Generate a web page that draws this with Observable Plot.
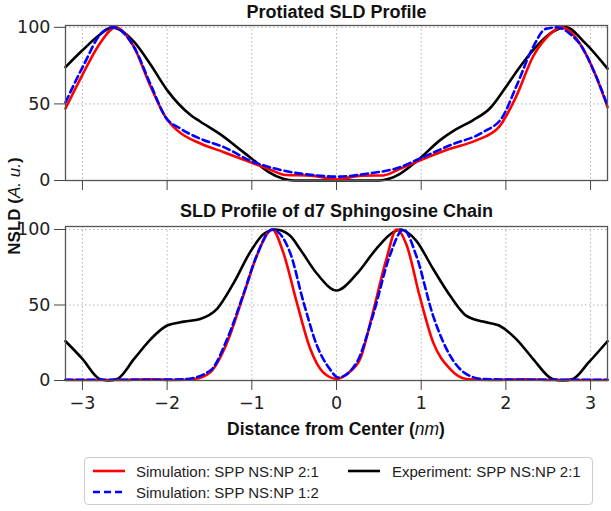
<!DOCTYPE html>
<html><head><meta charset="utf-8">
<script src="https://cdn.jsdelivr.net/npm/d3@7"></script>
<script src="https://cdn.jsdelivr.net/npm/@observablehq/plot@0.6"></script>
<style>
body{margin:0;background:#fff;}
#wrap{position:relative;width:611px;height:511px;font-family:"Liberation Sans",Arial,sans-serif;color:#111;overflow:hidden;}
.abs{position:absolute;}
</style></head><body><div id="wrap"></div>
<script>
// ---- Data ----
const xTicks = [-3, -2, -1, 0, 1, 2, 3];
const yTicks = [0, 50, 100];
const titleTop = "Protiated SLD Profile";
const titleBottom = "SLD Profile of d7 Sphingosine Chain";
const seriesNames = ["Simulation: SPP NS:NP 2:1", "Simulation: SPP NS:NP 1:2", "Experiment: SPP NS:NP 2:1"];

// Top panel: Protiated
const topSim21X = [-3.2, -3.0, -2.8, -2.61, -2.4, -2.2, -2.02, -1.88, -1.6, -1.33, -1.02, -0.8, -0.6, -0.3, -0.1, 0, 0.1, 0.3, 0.55, 0.75, 0.98, 1.34, 1.65, 1.92, 2.12, 2.32, 2.51, 2.65, 2.8, 2.9, 3.05, 3.2];
const topSim21Y = [47, 69, 89, 100, 88, 62, 41.5, 32.7, 24, 18.5, 12, 7.5, 3.6, 3.2, 1.5, 0.7, 1.5, 3.2, 3.3, 7.6, 13, 20.7, 26.2, 35, 54.6, 80.8, 95, 100, 95, 87, 70, 48];
const topSim12X = [-3.2, -2.98, -2.78, -2.63, -2.39, -2.19, -2.02, -1.84, -1.61, -1.33, -1.02, -0.63, -0.23, 0, 0.36, 0.75, 0.98, 1.34, 1.73, 1.96, 2.12, 2.32, 2.47, 2.61, 2.75, 2.9, 3.05, 3.2];
const topSim12Y = [51, 76, 96, 100, 87, 62, 41.5, 33.8, 27.3, 21.8, 13, 6.5, 3.3, 2.5, 4.4, 8.7, 14.2, 23, 31.6, 41.5, 61, 87, 99, 100, 96, 87, 70, 49];
const topExpX = [-3.2, -3.0, -2.8, -2.65, -2.39, -2.2, -2.0, -1.72, -1.61, -1.33, -1.2, -1.0, -0.8, -0.63, -0.5, 0, 0.5, 0.62, 0.75, 0.98, 1.22, 1.4, 1.61, 1.81, 2.0, 2.15, 2.32, 2.55, 2.71, 2.94, 3.2];
const topExpY = [74, 85, 95, 100, 90.5, 76, 59, 42.6, 38.5, 28.5, 22.9, 14.2, 5.5, 1.1, 0, 0, 0, 1.1, 4.4, 14.2, 26.2, 33, 39.3, 47, 61, 73, 85, 97, 100, 89.5, 73];

// Bottom panel: d7 Sphingosine chain
const botSim21X = [-3.2, -2.6, -2.2, -1.9, -1.68, -1.49, -1.29, -1.1, -0.94, -0.76, -0.63, -0.47, -0.31, -0.16, 0, 0.15, 0.28, 0.43, 0.59, 0.71, 0.83, 0.98, 1.14, 1.34, 1.53, 1.8, 2.2, 2.6, 3.2];
const botSim21Y = [0.3, 0.3, 0.8, 0.3, 1, 5.5, 25.4, 56.3, 82.8, 100, 85, 51.9, 21, 5.5, 1.1, 5.5, 14.4, 45.2, 80.6, 100, 89.4, 56.3, 25.4, 7.7, 1, 0.3, 0.8, 0.3, 0.3];
const botSim12X = [-3.2, -2.2, -1.8, -1.49, -1.29, -1.1, -0.94, -0.76, -0.55, -0.39, -0.23, -0.08, 0.02, 0.24, 0.43, 0.63, 0.79, 0.94, 1.14, 1.34, 1.53, 1.73, 2.2, 3.2];
const botSim12Y = [0.5, 0.5, 0.8, 6.6, 27.6, 57, 83, 100, 85, 52, 23, 7.7, 2, 12.1, 43, 82.8, 100, 83, 43, 16.6, 4.4, 1, 0.5, 0.5];
const botExpX = [-3.2, -3.0, -2.8, -2.7, -2.59, -2.39, -2.19, -2.0, -1.8, -1.61, -1.41, -1.21, -1.02, -0.86, -0.72, -0.55, -0.43, -0.23, 0, 0.24, 0.47, 0.67, 0.75, 0.94, 1.14, 1.34, 1.53, 1.73, 1.92, 2.12, 2.32, 2.55, 2.67, 2.79, 2.98, 3.2];
const botExpY = [26, 14.3, 1.1, 0, 1, 14.3, 27.6, 36.4, 39, 40.8, 47.5, 65, 85, 97, 100, 96, 87, 70.7, 59.6, 70.7, 87.2, 98.2, 100, 92.7, 74, 56.3, 43, 39, 36.4, 27.6, 14.4, 1, 0, 1, 12.1, 26];

const colors = ["#ff0000", "#0000ff", "#000000"];
const dashes = [null, "7,4", null];

// ---- Build ----
const zip = (xs, ys) => xs.map((x, i) => ({x, y: ys[i]}));
const container = document.getElementById("wrap");
const tickFont = "'DejaVu Sans', Verdana, sans-serif";

function lineMarks(sets) {
  const order = [2, 0, 1];
  return order.map(i => Plot.line(sets[i], {
    x: "x", y: "y", curve: "monotone-x",
    stroke: colors[i], strokeWidth: 2.6,
    strokeDasharray: dashes[i] || undefined
  }));
}

function panel({sets, title, labels, height, mt, mb, ymax, tdy}) {
  return Plot.plot({
    width: 611, height,
    marginLeft: 65, marginRight: 4, marginTop: mt, marginBottom: mb,
    x: {domain: [-3.2, 3.2]},
    y: {domain: [0, ymax]},
    style: {fontFamily: "'Liberation Sans', Arial, sans-serif", fontSize: "17px", color: "#222", background: "transparent"},
    marks: [
      Plot.gridX(xTicks, {stroke: "#aaa", strokeOpacity: 0.9, strokeDasharray: "1.5,2.5"}),
      Plot.gridY(yTicks, {stroke: "#aaa", strokeOpacity: 0.9, strokeDasharray: "1.5,2.5"}),
      ...lineMarks(sets),
      Plot.frame({stroke: "#555", strokeWidth: 1.3}),
      Plot.axisY(yTicks, {tickSize: 11, tickPadding: 4, fontSize: 17.5, fontFamily: tickFont, label: null, stroke: "#444"}),
      labels
        ? Plot.axisX(xTicks, {tickSize: 10, tickPadding: 6, fontSize: 17.5, fontFamily: tickFont, label: null, stroke: "#444"})
        : Plot.axisX(xTicks, {tickSize: 10, tickFormat: () => "", label: null, stroke: "#444"}),
      Plot.text([title], {frameAnchor: "top", lineAnchor: "middle", dy: tdy, fontSize: 18, fontWeight: "bold", fill: "#111"})
    ]
  });
}

const topChart = panel({
  sets: [zip(topSim21X, topSim21Y), zip(topSim12X, topSim12Y), zip(topExpX, topExpY)],
  title: titleTop, labels: false, height: 200, mt: 25, mb: 20, ymax: 101.2, tdy: -13
});
topChart.classList.add("abs"); topChart.style.left = "0px"; topChart.style.top = "0px";
container.appendChild(topChart);

const botChart = panel({
  sets: [zip(botSim21X, botSim21Y), zip(botSim12X, botSim12Y), zip(botExpX, botExpY)],
  title: titleBottom, labels: true, height: 240, mt: 26, mb: 60, ymax: 102, tdy: -15
});
botChart.classList.add("abs"); botChart.style.left = "0px"; botChart.style.top = "200px";
container.appendChild(botChart);

// y-axis title (spans both panels)
const yl = document.createElement("div");
yl.className = "abs";
yl.style.cssText = "left:15px;top:206px;transform:translate(-50%,-50%) rotate(-90deg);white-space:nowrap;font-size:17px;font-weight:bold;";
yl.innerHTML = "NSLD (<i style='font-weight:normal'>A. u.</i>)";
container.appendChild(yl);

// x-axis title
const xl = document.createElement("div");
xl.className = "abs";
xl.style.cssText = "left:336px;top:429px;transform:translate(-50%,-50%);white-space:nowrap;font-size:17.5px;font-weight:bold;";
xl.innerHTML = "Distance from Center (<i style='font-weight:normal'>nm</i>)";
container.appendChild(xl);

// legend
const lg = document.createElement("div");
lg.className = "abs";
lg.style.cssText = "left:84px;top:457px;width:509px;height:48px;border:1px solid #ccc;border-radius:4px;box-sizing:border-box;";
container.appendChild(lg);
const entries = [
  {i: 0, sx: 9, tx: 52, y: 14},
  {i: 1, sx: 9, tx: 52, y: 35},
  {i: 2, sx: 264, tx: 308, y: 14}
];
const ns = "http://www.w3.org/2000/svg";
const sw = document.createElementNS(ns, "svg");
sw.setAttribute("width", 509); sw.setAttribute("height", 48);
sw.style.cssText = "position:absolute;left:-1px;top:-1px;";
entries.forEach(e => {
  const ln = document.createElementNS(ns, "line");
  ln.setAttribute("x1", e.sx); ln.setAttribute("x2", e.sx + 32);
  ln.setAttribute("y1", e.y); ln.setAttribute("y2", e.y);
  ln.setAttribute("stroke", colors[e.i]); ln.setAttribute("stroke-width", 2.6);
  if (dashes[e.i]) ln.setAttribute("stroke-dasharray", dashes[e.i]);
  sw.appendChild(ln);
  const t = document.createElementNS(ns, "text");
  t.setAttribute("x", e.tx); t.setAttribute("y", e.y);
  t.setAttribute("dominant-baseline", "central");
  t.setAttribute("font-size", 15);
  t.setAttribute("fill", "#222");
  t.setAttribute("font-family", "'Liberation Sans', Arial, sans-serif");
  t.textContent = seriesNames[e.i];
  sw.appendChild(t);
});
lg.appendChild(sw);
</script>
</body></html>
